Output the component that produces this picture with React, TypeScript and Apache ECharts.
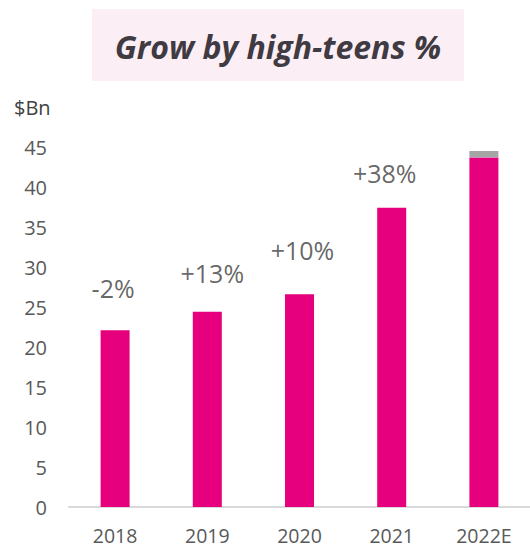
import React, { useEffect, useRef } from "react";
import * as echarts from "echarts";

const categories = ["2018", "2019", "2020", "2021", "2022E"];
const revenue = [22.1, 24.4, 26.6, 37.4, 43.7];
const upside = [null, null, null, null, 0.8];
const growthLabels = ["-2%", "+13%", "+10%", "+38%"];
const growthLabelLevels = [27.4, 29.3, 32.1, 41.7];
const growthLabelShiftX = [-2, 5, 3, -7];
const yTicksMax = 50;
const titleText = "Grow by high-teens %";
const unitText = "$Bn";

const FONT = "'Open Sans', sans-serif";

export default function App() {
  const ref = useRef<HTMLDivElement>(null);
  useEffect(() => {
    if (!ref.current) return;
    const chart = echarts.init(ref.current, undefined, { renderer: "svg" });
    chart.setOption({
      animation: false,
      backgroundColor: "#ffffff",
      grid: { left: 69, top: 107, width: 465, bottom: 41, containLabel: false },
      xAxis: {
        type: "category",
        data: categories,
        axisLine: { show: true, lineStyle: { color: "#D9D9D9", width: 2 } },
        axisTick: { show: false },
        axisLabel: {
          color: "#595959",
          fontSize: 19.5,
          lineHeight: 18,
          fontFamily: FONT,
          margin: 19,
        },
      },
      yAxis: {
        type: "value",
        min: 0,
        max: yTicksMax,
        interval: 5,
        splitLine: { show: false },
        axisLine: { show: false },
        axisTick: { show: false },
        axisLabel: {
          color: "#595959",
          fontSize: 20,
          fontFamily: FONT,
          margin: 22,
          formatter: (v: number) => (v >= yTicksMax ? "" : String(v)),
        },
      },
      graphic: [
        {
          type: "rect",
          shape: { x: 92, y: 9, width: 372, height: 72 },
          style: { fill: "#FCEEF5" },
          silent: true,
        },
        {
          type: "text",
          x: 278,
          y: 46,
          style: {
            text: titleText,
            fill: "#403A42",
            font: "italic bold 32px 'Open Sans', sans-serif",
            align: "center",
            verticalAlign: "middle",
          },
        },
        {
          type: "text",
          x: 14,
          y: 107,
          style: {
            text: unitText,
            fill: "#404040",
            font: "20px 'Open Sans', sans-serif",
            align: "left",
            verticalAlign: "middle",
          },
        },
      ],
      series: [
        {
          type: "bar",
          stack: "total",
          data: revenue,
          barWidth: 29,
          itemStyle: { color: "#E6007E" },
        },
        {
          type: "bar",
          stack: "total",
          data: upside,
          barWidth: 29,
          itemStyle: { color: "#A6A6A6" },
        },
        {
          type: "scatter",
          symbolSize: 0,
          silent: true,
          data: growthLabels.map((t, i) => ({
            value: [categories[i], growthLabelLevels[i]],
            label: { offset: [growthLabelShiftX[i], 0] },
          })),
          label: {
            show: true,
            position: "inside",
            color: "#404040",
            fontSize: 25,
            fontFamily: FONT,
            formatter: (p: any) => growthLabels[p.dataIndex],
          },
        },
      ],
    });
    return () => chart.dispose();
  }, []);
  return (
    <div
      ref={ref}
      style={{ position: "fixed", left: 0, top: 0, width: 530, height: 548 }}
    />
  );
}
